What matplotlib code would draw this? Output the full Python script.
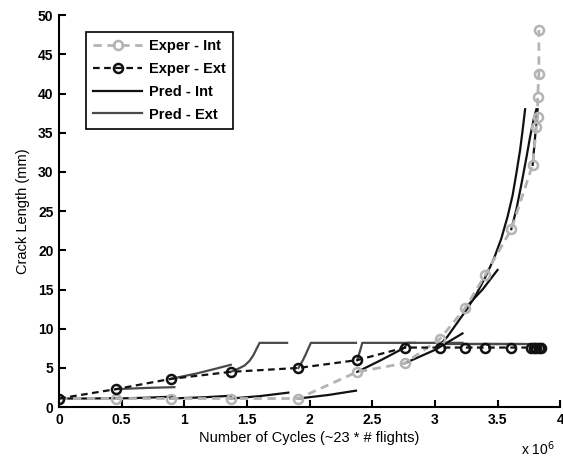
import matplotlib
matplotlib.use('Agg')
import matplotlib.pyplot as plt

plt.rcParams['font.family'] = ['Liberation Sans', 'DejaVu Sans']

# experimental data (cycles in units of 1e6, crack length in mm)
exp_int_x = [0, 0.455, 0.89, 1.37, 1.91, 2.38, 2.76, 3.04, 3.24, 3.40, 3.61, 3.78, 3.81, 3.82, 3.82, 3.83, 3.83]
exp_int_y = [1.1, 1.1, 1.1, 1.1, 1.1, 4.5, 5.6, 8.7, 12.6, 16.8, 22.7, 30.9, 35.7, 37.0, 39.5, 42.5, 48.1]

exp_ext_x = [0, 0.455, 0.89, 1.37, 1.91, 2.38, 2.76, 3.04, 3.24, 3.40, 3.61, 3.77, 3.79, 3.81, 3.83, 3.85]
exp_ext_y = [1.1, 2.3, 3.6, 4.5, 5.0, 6.0, 7.6, 7.6, 7.6, 7.6, 7.6, 7.6, 7.6, 7.6, 7.6, 7.6]

# predicted segments, one started from each measurement
pred_int_x = [
    [0, 0.25, 0.5],
    [0.455, 0.7, 0.92],
    [0.89, 1.15, 1.37],
    [1.37, 1.6, 1.83],
    [1.91, 2.15, 2.37],
    [2.38, 2.57, 2.76],
    [2.76, 3.0, 3.22],
    [3.02, 3.10, 3.18, 3.26, 3.33, 3.40, 3.47, 3.53, 3.58, 3.62, 3.65, 3.68, 3.70, 3.72],
    [3.24, 3.38, 3.50],
    [3.61, 3.65, 3.69, 3.73, 3.76, 3.79, 3.81],
    [3.78, 3.80, 3.82],
]
pred_int_y = [
    [1.1, 1.1, 1.15],
    [1.1, 1.2, 1.35],
    [1.1, 1.25, 1.45],
    [1.1, 1.4, 1.85],
    [1.1, 1.55, 2.1],
    [4.5, 6.0, 7.6],
    [5.6, 7.3, 9.4],
    [7.6, 9.0, 10.8, 12.6, 14.4, 16.5, 18.9, 21.5, 24.3, 27.0, 29.8, 32.8, 35.3, 38.0],
    [12.6, 15.0, 17.5],
    [22.7, 25.2, 28.4, 31.8, 34.5, 36.8, 38.0],
    [30.9, 34.5, 38.0],
]

pred_ext_x = [
    [0.455, 0.7, 0.92],
    [0.89, 1.1, 1.25, 1.37],
    [1.37, 1.43, 1.48, 1.52, 1.55, 1.575, 1.60, 1.82],
    [1.91, 1.94, 1.965, 1.99, 2.01, 2.37],
    [2.38, 2.395, 2.41, 2.42, 2.84],
    [2.76, 2.78, 3.22],
    [3.04, 3.50],
    [3.24, 3.70],
    [3.40, 3.86],
]
pred_ext_y = [
    [2.3, 2.45, 2.55],
    [3.6, 4.3, 4.9, 5.4],
    [4.5, 4.9, 5.3, 5.9, 6.6, 7.4, 8.2, 8.2],
    [5.0, 5.8, 6.6, 7.5, 8.2, 8.2],
    [6.0, 6.8, 7.6, 8.2, 8.2],
    [7.6, 8.2, 8.2],
    [8.1, 8.1],
    [8.1, 8.1],
    [8.1, 8.1],
]

fig = plt.figure(figsize=(5.63, 4.59), dpi=100, facecolor='white')
ax = fig.add_axes([0.105, 0.113, 0.89, 0.854])

for xs, ys in zip(pred_ext_x, pred_ext_y):
    h_pe, = ax.plot(xs, ys, color='#4a4a4a', lw=1.6)
for xs, ys in zip(pred_int_x, pred_int_y):
    h_pi, = ax.plot(xs, ys, color='#111111', lw=1.6)

h_ei, = ax.plot(exp_int_x, exp_int_y, '--o', color='#b4b4b4', lw=2, dashes=(3, 2),
                ms=6.5, mfc='none', mew=1.8)
h_ee, = ax.plot(exp_ext_x, exp_ext_y, '--o', color='#111111', lw=1.6, dashes=(3, 2),
                ms=6.5, mfc='none', mew=1.8)

ax.set_xlim(0, 4)
ax.set_ylim(0, 50)
ax.set_xticks([0, 0.5, 1, 1.5, 2, 2.5, 3, 3.5, 4])
ax.set_xticklabels(['0', '0.5', '1', '1.5', '2', '2.5', '3', '3.5', '4'])
ax.set_yticks(range(0, 51, 5))
ax.tick_params(direction='in', length=5, width=1.5, labelsize=10, pad=4)
for lab in ax.get_xticklabels() + ax.get_yticklabels():
    lab.set_fontweight('bold')
ax.spines['top'].set_visible(False)
ax.spines['right'].set_visible(False)
ax.spines['left'].set_linewidth(1.5)
ax.spines['bottom'].set_linewidth(1.5)

ax.set_xlabel('Number of Cycles (~23 * # flights)', fontsize=10.5, labelpad=3)
ax.set_ylabel('Crack Length (mm)', fontsize=10.5, labelpad=6)
fig.text(0.925, 0.008, r'x 10$^6$', fontsize=10)

leg = ax.legend([h_ei, h_ee, h_pi, h_pe], ['Exper - Int', 'Exper - Ext', 'Pred - Int', 'Pred - Ext'],
                loc='upper left', bbox_to_anchor=(0.054, 0.957), borderaxespad=0,
                fancybox=False, edgecolor='black', framealpha=1, numpoints=1,
                handlelength=3.3, handletextpad=0.5, labelspacing=0.6, borderpad=0.5,
                prop={'weight': 'bold', 'size': 10.5})
leg.get_frame().set_linewidth(1.2)

fig.savefig('out.png', dpi=100, facecolor='white')
